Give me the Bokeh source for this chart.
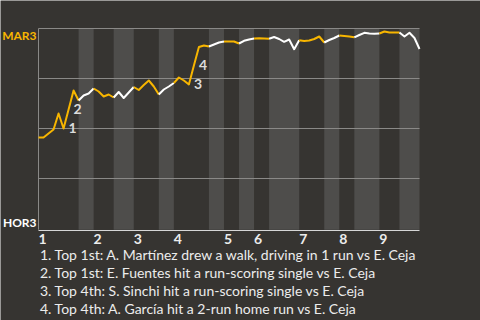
import numpy as np
from bokeh.plotting import figure
from bokeh.models import Range1d, FixedTicker, LinearAxis
from bokeh.core.properties import value
from bokeh.embed import file_html
from bokeh.resources import INLINE

# ---------------- data ----------------
teams = ["MAR3", "HOR3"]               # top of chart = MAR3 win, bottom = HOR3 win
team_pos = [96.5, 3]                   # where the team names sit on the % scale
inning_labels = ["1", "2", "3", "4", "5", "6", "7", "8", "9"]
grid_levels = [25, 50, 75, 100]
# plate appearances per half inning (top 1, bottom 1, top 2, ...)
half_pa = [8, 3, 4, 4, 5, 3, 7, 3, 3, 3, 3, 6, 5, 3, 3, 5, 4, 4]
# MAR3 win probability (%) after each plate appearance (index 0 = start)
wp = [45.5, 45.5, 47.5, 49.5, 57.5, 50, 59.5, 69, 64,
      66.5, 67.5, 70,
      68.5, 66, 67, 65.5,
      68.25, 65.25, 68, 70.75,
      69.25, 71.75, 74, 71, 67,
      69.5, 71, 72.75,
      75.5, 74, 72, 81.5, 90.75, 91.5, 91,
      92, 93, 93.5,
      93.5, 93.5, 92.5,
      93.85, 94.5, 95,
      95.15, 95, 94.85,
      95.75, 94.75, 93.35, 94.5, 89.65, 94.15,
      93.75, 94, 94.75, 96, 93,
      94.25, 95.25, 96.5,
      96.25, 96, 95.6,
      96.75, 97.85, 97.5, 97.4, 97.5,
      98.5, 98, 98, 98,
      96, 97.85, 95.25, 89.75]
event_pa = [6, 7, 31, 32]
event_nums = ["1", "2", "3", "4"]
event_text = [
    "1. Top 1st: A. Martínez drew a walk, driving in 1 run vs E. Ceja",
    "2. Top 1st: E. Fuentes hit a run-scoring single vs E. Ceja",
    "3. Top 4th: S. Sinchi hit a run-scoring single vs E. Ceja",
    "4. Top 4th: A. García hit a 2-run home run vs E. Ceja",
]

# ---------------- style ----------------
BG = "#363431"
BAND = "#4e4d4b"
GRID = "#8a8987"
YELLOW = "#f7b500"
WHITE = "#ffffff"
TXT = "#ececec"
FONT = "Lato"

cum = np.concatenate([[0], np.cumsum(half_pa)])
n_pa = int(cum[-1])

# frame covers the whole canvas; 1 PA = 381/n_pa px, 1 % = 2 px
W, H = 480, 320
left_px, plot_w, top_px, plot_h = 38, 381, 28, 200
sx = plot_w / n_pa
sy = plot_h / 100
x0 = -left_px / sx
x1 = (W - left_px) / sx
y1 = 100 + top_px / sy
y0 = 100 - (H - top_px) / sy

p = figure(width=W, height=H, output_backend="svg", toolbar_location=None,
           x_range=Range1d(x0, x1), y_range=Range1d(y0, y1),
           x_axis_location=None, y_axis_location=None, min_border=0)
p.background_fill_color = BG
p.border_fill_color = BG
p.outline_line_color = None
p.grid.visible = False

# bottom-half bands
bl = [cum[k] for k in range(1, len(half_pa), 2)]
br = [cum[k + 1] for k in range(1, len(half_pa), 2)]
p.quad(left=bl, right=br, bottom=-0.6, top=100, fill_color=BAND, line_color=None)

# grid lines and left edge
p.segment(x0=0, x1=n_pa, y0=grid_levels, y1=grid_levels, line_color=GRID, line_width=1)
p.segment(x0=0, x1=0, y0=-0.6, y1=100, line_color=GRID, line_width=1)

# line, coloured by batting team
xs, ys, cols = [], [], []
for k in range(len(half_pa)):
    a, b = int(cum[k]), int(cum[k + 1])
    xs.append(list(range(a, b + 1)))
    ys.append(wp[a:b + 1])
    cols.append(YELLOW if k % 2 == 0 else WHITE)
p.multi_line(xs=xs, ys=ys, line_color=cols, line_width=2, line_join="round")

# event markers
ex = [e - 1 for e in event_pa]
ey = [wp[e - 1] for e in event_pa]
p.text(x=ex, y=ey, text=event_nums, x_offset=5, y_offset=-1,
       text_baseline="middle", text_align="left", text_color="#dcdcdc",
       text_font=value(FONT), text_font_style="bold", text_font_size="14px")

# x axis (inning starts)
starts = [cum[2 * i] for i in range(9)]
tick_pos = [float(s) + 0.8 for s in starts]
xaxis = LinearAxis(fixed_location=-0.75, bounds=(0, n_pa),
                   ticker=FixedTicker(ticks=tick_pos))
xaxis.major_label_overrides = {t: l for t, l in zip(tick_pos, inning_labels)}
xaxis.major_tick_line_color = None
xaxis.minor_tick_line_color = None
xaxis.major_tick_out = 0
xaxis.major_tick_in = 0
xaxis.major_label_standoff = 4
xaxis.axis_line_color = "#d6d6d6"
xaxis.axis_line_width = 1
xaxis.major_label_text_color = TXT
xaxis.major_label_text_font = FONT
xaxis.major_label_text_font_style = "bold"
xaxis.major_label_text_font_size = "14px"
p.add_layout(xaxis, "below")

# team labels
p.text(x=[0, 0], y=team_pos, text=teams, x_offset=-2, text_align="right",
       text_baseline="middle", text_color=[YELLOW, WHITE],
       text_font=value(FONT), text_font_style="bold", text_font_size="12px")

# event legend
leg_y = [-13 - 9 * i for i in range(len(event_text))]
p.text(x=0.3, y=leg_y, text=event_text, text_align="left",
       text_baseline="middle", text_color=TXT, text_font=value(FONT),
       text_font_size="14px")

open("out.html", "w").write(file_html(p, INLINE))
